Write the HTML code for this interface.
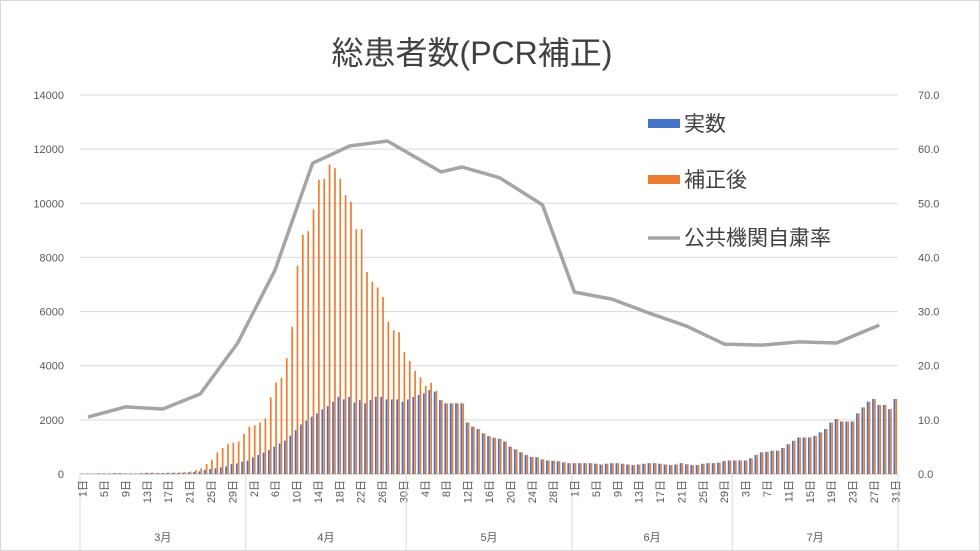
<!DOCTYPE html>
<html><head><meta charset="utf-8">
<style>
body{margin:0;background:#fff;}
svg{display:block;font-family:"Liberation Sans","Noto Sans CJK JP",sans-serif;}
</style></head>
<body>
<svg id="chart" width="980" height="551" viewBox="0 0 980 551" xmlns="http://www.w3.org/2000/svg">
<rect x="0.5" y="0.5" width="979" height="550" fill="#fff" stroke="#d9d9d9"/>
<text x="472" y="64" font-size="32" text-anchor="middle" fill="#404040">総患者数(PCR補正)</text>
<g id="grid"></g>
<g id="bars"></g>
<g id="lineg"></g>
<g id="axes"></g>
<g>
<rect x="648" y="119" width="32" height="9" fill="#4472C4"/>
<text x="684" y="131" font-size="21" fill="#404040">実数</text>
<rect x="648" y="175" width="32" height="9" fill="#ED7D31"/>
<text x="684" y="187" font-size="21" fill="#404040">補正後</text>
<line x1="648" y1="238" x2="680" y2="238" stroke="#A5A5A5" stroke-width="3.5"/>
<text x="684" y="245" font-size="21" fill="#404040">公共機関自粛率</text>
</g>
</svg>
<script>
const months = ["3月","4月","5月","6月","7月"];
const monthDays = [31,30,31,30,31];
const leftTicks = [0,2000,4000,6000,8000,10000,12000,14000];
const rightTicks = ["0.0","10.0","20.0","30.0","40.0","50.0","60.0","70.0"];
const actual = [
10,10,10,20,20,20,30,30,20,20,15,30,40,40,30,30,40,40,40,50,60,80,100,150,185,210,245,280,370,390,455,
490,615,700,790,885,1010,1130,1230,1415,1620,1830,1970,2115,2240,2390,2510,2670,2850,2755,2850,2640,2730,2610,2730,2850,2850,2755,2755,2755,2670,
2755,2850,2915,2980,3100,3040,2730,2610,2610,2610,2610,1900,1750,1660,1500,1400,1340,1300,1200,1010,910,800,700,630,620,540,500,490,470,430,400,
400,400,400,400,380,350,380,400,400,380,350,330,350,380,400,400,380,350,330,350,400,360,330,330,380,400,400,420,480,500,
500,500,500,580,700,800,820,860,860,960,1100,1230,1350,1350,1350,1410,1540,1660,1900,2030,1940,1940,1940,2240,2460,2670,2770,2550,2550,2400,2770];
const corrected = [
15,15,15,25,25,25,35,35,25,25,20,35,50,50,40,40,50,55,60,70,90,150,210,370,520,800,960,1100,1160,1200,1480,
1750,1800,1900,2050,2830,3380,3550,4280,5440,7700,8840,8970,9770,10870,10900,11430,11300,10900,10300,10050,9040,9040,7470,7100,6890,6540,5620,5310,5240,4510,
4180,3810,3570,3250,3370,3075,2730,2610,2610,2610,2610,1900,1750,1660,1500,1400,1340,1300,1200,1010,910,800,700,630,620,540,500,490,470,430,400,
400,400,400,400,380,350,380,400,400,380,350,330,350,380,400,400,380,350,330,350,400,360,330,330,380,400,400,420,480,500,
500,500,500,580,700,800,820,860,860,960,1100,1230,1350,1350,1350,1410,1540,1660,1900,2030,1940,1940,1940,2240,2460,2670,2770,2550,2550,2400,2770];
const rateDays = [1,8,15,22,29,36,43,50,57,67,71,78,86,92,99,106,113,120,127,134,141,149];
const rateValues = [10.5,12.4,12.0,14.8,24.2,37.7,57.4,60.6,61.5,55.8,56.7,54.7,49.7,33.6,32.3,29.7,27.3,24.0,23.8,24.4,24.2,27.5];

const NS="http://www.w3.org/2000/svg";
const X0=80, X1=898, Y0=474, Y1=95;
const nDays = monthDays.reduce((a,b)=>a+b,0);
const slot=(X1-X0)/nDays;
const xDay=d=>X0+(d+0.5)*slot;
const yL=v=>Y0-v/14000*(Y0-Y1);
const yR=v=>Y0-v/70*(Y0-Y1);
function mk(tag,attrs,parent,txt){const e=document.createElementNS(NS,tag);for(const k in attrs)e.setAttribute(k,attrs[k]);if(txt!==undefined)e.textContent=txt;parent.appendChild(e);return e;}
const grid=document.getElementById('grid'),bars=document.getElementById('bars'),lineg=document.getElementById('lineg'),axes=document.getElementById('axes');
leftTicks.forEach((t,i)=>{
  const y=yL(t);
  const g=mk('line',{x1:X0,x2:X1,y1:y,y2:y,stroke:i==0?'#bfbfbf':'#d9d9d9','stroke-width':1},grid);
  
  
  const l=mk('text',{x:64,y:y+4,'font-size':11,'text-anchor':'end',fill:'#595959'},axes,String(t));
  
  
  const r=mk('text',{x:918,y:y+4,'font-size':11,fill:'#595959'},axes,rightTicks[i]);
  
  
});
const bw=1.7;
for(let d=0;d<nDays;d++){
  const xc=X0+d*slot;
  const b=mk('rect',{x:xc+slot/2-bw-0.1,y:yL(actual[d]),width:bw,height:Y0-yL(actual[d]),fill:'#4472C4'},bars);
  
  
  const o=mk('rect',{x:xc+slot/2+0.1,y:yL(corrected[d]),width:bw,height:Y0-yL(corrected[d]),fill:'#ED7D31'},bars);
  
  
}
const pts=rateDays.map((d,i)=>xDay(d).toFixed(1)+','+yR(rateValues[i]).toFixed(1)).join(' ');
const pl=mk('polyline',{points:pts,fill:'none',stroke:'#A5A5A5','stroke-width':3.5,'stroke-linejoin':'round'},lineg);


let start=0;
mk('line',{x1:X0,x2:X0,y1:Y0,y2:551,stroke:'#d9d9d9'},axes);
months.forEach((m,mi)=>{
  for(let k=0;k<monthDays[mi];k++){
    const d=start+k;
    if(d%4===0){
      const x=xDay(d);
      const t=mk('text',{x:0,y:0,'font-size':11,'text-anchor':'end',fill:'#595959',transform:`translate(${(x+4).toFixed(1)},480) rotate(-90)`},axes,(k+1)+'日');
      
      
    }
  }
  const end=start+monthDays[mi];
  const xe=X0+end*slot;
  const s=mk('line',{x1:xe,x2:xe,y1:Y0,y2:551,stroke:'#d9d9d9'},axes);
  
  
  const mt=mk('text',{x:(X0+start*slot+xe)/2,y:541,'font-size':11,'text-anchor':'middle',fill:'#595959'},axes,m);
  
  
  start=end;
});
</script>
</body></html>
